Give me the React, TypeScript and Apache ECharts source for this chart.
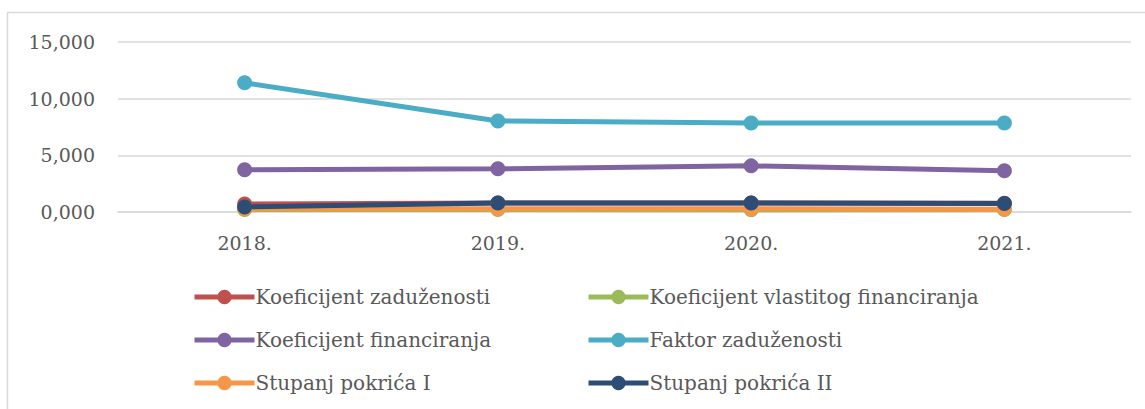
import React, { useEffect, useRef } from "react";
import * as echarts from "echarts";

const categories = ["2018.", "2019.", "2020.", "2021."];
const seriesNames = [
  "Koeficijent zaduženosti",
  "Koeficijent vlastitog financiranja",
  "Koeficijent financiranja",
  "Faktor zaduženosti",
  "Stupanj pokrića I",
  "Stupanj pokrića II",
];
const koefZaduzenosti = [0.7, 0.79, 0.8, 0.78];
const koefVlastitog = [0.22, 0.21, 0.2, 0.22];
const koefFinanciranja = [3.72, 3.81, 4.07, 3.63];
const faktorZaduzenosti = [11.4, 8.03, 7.85, 7.85];
const stupanjI = [0.28, 0.28, 0.28, 0.25];
const stupanjII = [0.44, 0.8, 0.8, 0.76];
const colors = ["#C0504D", "#9BBB59", "#8064A2", "#4BACC6", "#F79646", "#2C4D75"];
const yTicks = [0, 5, 10, 15];

const FONT = "DejaVu Serif";
const TXT = "#595959";

export default function App() {
  const ref = useRef<HTMLDivElement>(null);
  useEffect(() => {
    const chart = echarts.init(ref.current!, undefined, { renderer: "svg" });
    const values = [koefZaduzenosti, koefVlastitog, koefFinanciranja, faktorZaduzenosti, stupanjI, stupanjII];
    const legendCommon = {
      orient: "vertical" as const,
      itemWidth: 60,
      itemHeight: 18,
      itemGap: 21,
      lineStyle: { width: 5 },
      textStyle: { fontFamily: FONT, fontSize: 20, color: TXT, lineHeight: 22, padding: [0, 0, 0, -4] },
      selectedMode: false,
    };
    chart.setOption({
      animation: false,
      backgroundColor: "#ffffff",
      graphic: [
        {
          type: "rect",
          shape: { x: 7.5, y: 12.5, width: 1160, height: 420 },
          style: { fill: "none", stroke: "#d9d9d9", lineWidth: 1.5 },
          silent: true,
        },
      ],
      grid: { left: 118, right: 14, top: 42, bottom: 197 },
      legend: [
        { ...legendCommon, left: 187, top: 281, data: [seriesNames[0], seriesNames[2], seriesNames[4]] },
        { ...legendCommon, left: 581, top: 281, data: [seriesNames[1], seriesNames[3], seriesNames[5]] },
      ],
      xAxis: {
        type: "category",
        data: categories,
        boundaryGap: true,
        axisLine: { show: true, lineStyle: { color: "#d9d9d9", width: 1.5 } },
        axisTick: { show: false },
        axisLabel: { fontFamily: FONT, fontSize: 19, color: TXT, margin: 21 },
      },
      yAxis: {
        type: "value",
        min: yTicks[0],
        max: yTicks[yTicks.length - 1],
        interval: 5,
        axisLine: { show: false },
        axisTick: { show: false },
        splitLine: { lineStyle: { color: "#d9d9d9", width: 1.5 } },
        axisLabel: {
          fontFamily: FONT,
          fontSize: 19,
          color: TXT,
          margin: 23,
          formatter: (v: number) => v.toFixed(3).replace(".", ","),
        },
      },
      series: seriesNames.map((name, i) => ({
        name,
        type: "line",
        data: values[i],
        color: colors[i],
        symbol: "circle",
        symbolSize: 15,
        lineStyle: { width: 5, color: colors[i] },
        itemStyle: { color: colors[i] },
      })),
    });
    return () => chart.dispose();
  }, []);
  return (
    <div
      ref={ref}
      style={{ position: "absolute", left: 0, top: 0, width: 1145, height: 409 }}
    />
  );
}
